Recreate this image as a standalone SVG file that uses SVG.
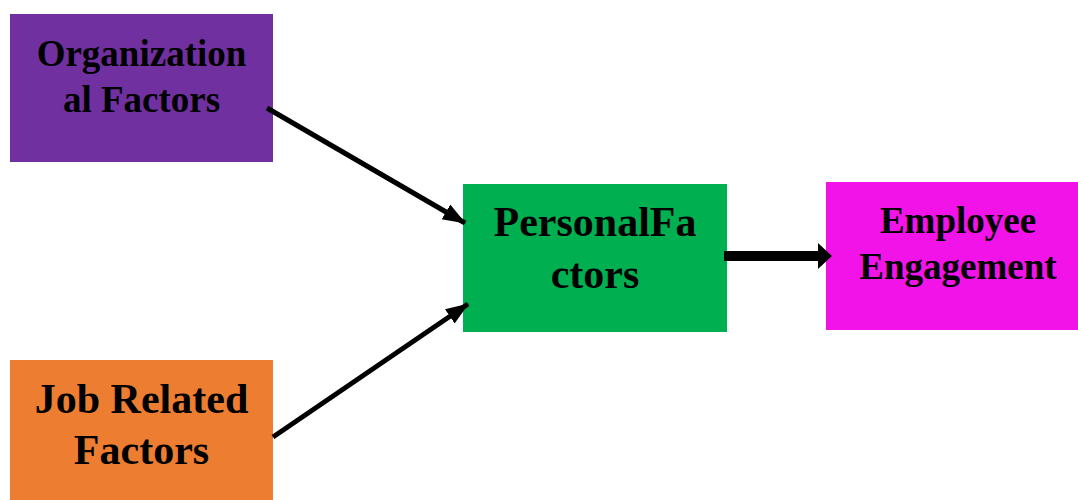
<svg xmlns="http://www.w3.org/2000/svg" width="1078" height="500" viewBox="0 0 1078 500">
<style>
text{font-family:"Liberation Serif","Times New Roman",serif;font-weight:bold;fill:#000;text-anchor:middle}
.c{stroke:#000;fill:none}
</style>
<defs>
<marker id="ah" markerWidth="5" markerHeight="5" refX="4.4" refY="2.5" orient="auto" markerUnits="strokeWidth">
<path d="M0,0.8 L4.6,2.5 L0,4.2 Z" fill="#000"/>
</marker>
<marker id="ah2" markerWidth="16" markerHeight="30" refX="2" refY="14" orient="auto" markerUnits="userSpaceOnUse">
<path d="M0,1 L14,14 L0,27 Z" fill="#000"/>
</marker>
</defs>
<rect width="1078" height="500" fill="#fff"/>
<g id="org">
<rect x="10" y="14" width="263" height="148" fill="#7030A0"/>
<text x="141.5" y="66" font-size="37">Organization</text>
<text x="141.5" y="112" font-size="37">al Factors</text>
</g>
<g id="job">
<rect x="10" y="360" width="263" height="140" fill="#ED7D31"/>
<text x="141.5" y="413" font-size="42">Job Related</text>
<text x="141.5" y="464" font-size="42">Factors</text>
</g>
<g id="personal">
<rect x="463" y="184" width="264" height="148" fill="#00B050"/>
<text x="595" y="236" font-size="42">PersonalFa</text>
<text x="595" y="288" font-size="42">ctors</text>
</g>
<g id="engagement">
<rect x="826" y="182" width="252" height="148" fill="#F213E9"/>
<text x="958" y="233" font-size="37">Employee</text>
<text x="958" y="279" font-size="37">Engagement</text>
</g>
<g id="connectors">
<line class="c" x1="267" y1="108" x2="465" y2="223" stroke-width="5" marker-end="url(#ah)"/>
<line class="c" x1="273" y1="437" x2="468" y2="304" stroke-width="5" marker-end="url(#ah)"/>
<line class="c" x1="724" y1="256" x2="820" y2="256" stroke-width="10" marker-end="url(#ah2)"/>
</g>
</svg>
